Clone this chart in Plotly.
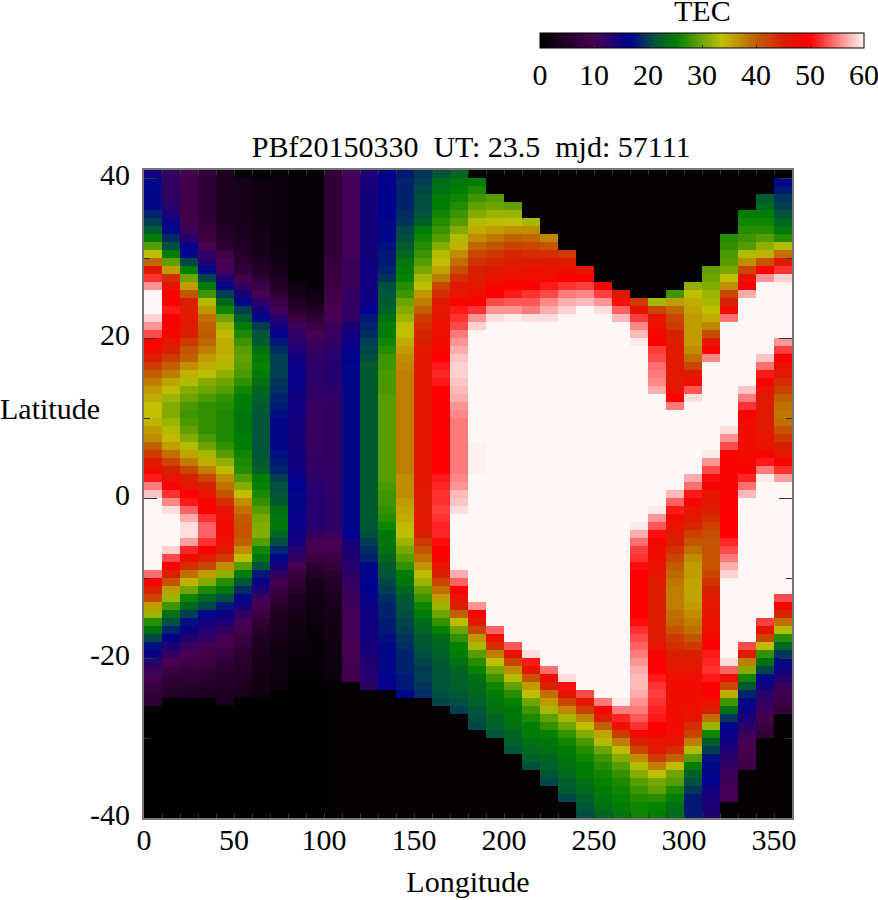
import numpy as np
import plotly.graph_objects as go

# TEC, one list per 10 deg longitude column, top row (lat 40..41) first
lon_000 = [15,17,17,17,17,18.5,20,22,25,29,33.5,39.5,46,52,56,60,60,60,58.5,56,
           53,50,48,45,43,40,38,36,35,33.6,33.6,34.5,36,37,40,43,46,48,51,55,
           58,60,60,60,60,60,60,60,60,60,54.5,50,45,42,36,32,27,24,20.5,17.5,
           15.5,13.5,11,10,8,7,7,0,0,0,0,0,0,0,0,0,0,0,0,0,0]
lon_010 = [12,12,12,12,13,14,15.5,17,19,21,25,29.5,36,44,47,50,50,51,50,50,
           49,47,45,43,40,38,35.5,34,32,31,31,32,33,34,36,39,42,45,47,50,
           52,55.5,59,60,60,60,60,58.5,53,50,45,41,36,32,28,24,21,18.5,16,14,
           12,10,8.5,7,6,5,0,0,0,0,0,0,0,0,0,0,0,0,0,0,0]
lon_020 = [9.5,9,9,9,9,9,9.5,11,13,16,17,20.5,25,30,36,41,45,45.5,46,46,
           45.5,43,41,40,37,34.5,33,31,30,28.5,28,28.5,29.5,31,33,35.5,38,42,45,47,
           50,51,54,57,59,59,56.5,51.5,48,44,39,34.5,30,26,23,20,17.5,15.5,13.5,11.5,
           10,9,7.5,6.5,5.5,4.5,0,0,0,0,0,0,0,0,0,0,0,0,0,0,0]
lon_030 = [7,7,7,7,7,7,7.5,8,8.5,10,12,13.5,17,20.5,25,28,33,36.5,39,40,
           40.5,39.5,38,36,35,33.5,31,30,28.5,27.5,27.5,27.5,27.5,28.5,30,32.5,35,38,42,45,
           47,49,50,52,54,54,52,50,45.5,42,36,31,26.5,23,20.5,17,15,13.5,12.5,10.5,
           9,8,7,6,5,4,0,0,0,0,0,0,0,0,0,0,0,0,0,0,0]
lon_040 = [4,4,4,4,4,4,4,4.5,5.5,6,8.5,10,10.5,13.5,17,20,23.5,26,30,32.5,
           34,35,35,34.5,33,31.5,30,29,27.5,27,26.5,26.5,26.5,26.5,27.5,29,31.5,34,37,39,
           41,44,47,48,48,48,47.5,46,43,37,31.5,27,24.5,21,18,15.5,14,12,10.5,9.5,
           8.5,7,6,5,5,4,3.5,0,0,0,0,0,0,0,0,0,0,0,0,0,0]
lon_050 = [1,3,3,3,3,3,3.5,3.5,4,4.5,5,6,7,9.5,12,14,17,20,22,25,
           26.5,28,29,29.5,29,28.5,27.5,26,25,25,24.5,24.5,24.5,25,25,26,26.5,27,29,31,
           33.5,37,39,40.5,41,41,40,37,33.5,29,25,21.5,19,17,14.5,12,10.5,9.5,8,7,
           6,5.5,5,4.5,4,3.5,0,0,0,0,0,0,0,0,0,0,0,0,0,0,0]
lon_060 = [0.5,2,2,2,2,2,2.5,2.5,3,3,3.5,4,5,6.5,8.5,10,12.5,14.5,17,20,
           21.5,22,24,25,25.5,25,24,23,22.5,22,21.5,21.5,21.5,21.5,21.5,21.5,22,22.5,25,25.5,
           26.5,27.5,29,30.5,31,31,29,26,24.5,21.5,18,15.5,14,11,9.5,8,6.5,5.5,4.5,4,
           3.5,3,3,2.5,2.5,2,0,0,0,0,0,0,0,0,0,0,0,0,0,0,0]
lon_070 = [1,1.5,1.5,1.5,1.5,1.5,1.5,1.5,1.5,1.5,2,2.5,3,4,5,6.5,8.5,10.5,13,15,
           16,18,19,20,20,20,19.5,19,18.5,18,17.5,17,17,17,17,17.5,18,18.5,20,21,
           21.5,22,24,24.5,24.5,23,21,18.5,17,14.5,12,9.5,8,6.5,5.5,4.5,4,3.5,3,2.5,
           2,2,2,1.5,1.5,0,0,0,0,0,0,0,0,0,0,0,0,0,0,0,0]
lon_080 = [1,1,1,1,1,1,1,1,1,1,1,1,1,1,2,3,4.5,6,8,11,
           12.5,13,14,15,15.5,16,16,15.5,15,15,15,15,14.5,14.5,14.5,15,15,15.5,16,16.5,
           17,17,17,16,16,15,15,13,12,10,8,6.5,5.5,4,3.5,3,2.5,2,1.5,1.5,
           1,1,1,1,0,0,0,0,0,0,0,0,0,0,0,0,0,0,0,0,0]
lon_090 = [1,1,1,1,1,1,1,1,1,1,1,1,1,1,1,2,3,4.5,6.5,8.5,
           10,11,11.5,12,12.5,12.5,12.5,12.5,12,11.5,11.5,11.5,11.5,11.5,11.5,11.5,12,12,12.5,13,
           13.5,13,13,13,13,12,10.5,10,8,6,5,3.5,3,2.5,2,2,1.5,1,1,1,
           1,1,1,1,0,0,0,0,0,0,0,0,0,0,0,0,0,0,0,0,0]
lon_100 = [7,7,7,7,7,7,7,7,7,7,7,7.5,8,8,8.5,9,9.5,10,10.5,11,
           11.5,12,12.5,13,13,13,13,12.5,12,12,12,12,12,12,12,12,12,12,12,12,
           12.5,12.5,12.5,12.5,12.5,11.5,10,9.5,8.5,7.5,6,5,4.5,4,3.5,3,3,2.5,2.5,2,
           2,2,1.5,1.5,0.5,0.5,0.5,0.5,0.5,0.5,0.5,0.5,0.5,0.5,0.5,0.5,0.5,0.5,0.5,0.5,0.5]
lon_110 = [10.5,10.5,10.5,10.5,10.5,10.5,10.5,10.5,10.5,10.5,10.5,11,11,11,11,12,12,12,12,14,
           15,15.5,16,16.5,17,17,17,17,17,17,17,17,17,17,17,17,17,17,17,17,
           17,17,17,17,17,16.5,14.5,14,13.5,13,12.5,12,11.5,11,11,10.5,10.5,10.5,10,10,
           10,9.5,9.5,9.5,0.5,0.5,0.5,0.5,0.5,0.5,0.5,0.5,0.5,0.5,0.5,0.5,0.5,0.5,0.5,0.5,0.5]
lon_120 = [14,14.5,14.5,14.5,14.5,14.5,14.5,14.5,14.5,14.5,14.5,15,15,15,15,15,15.5,16.5,18,18.5,
           19,20,20.5,21,22,22,22,22,22,22,22,22,22,22,22,22,22,22,22,22,
           22,22,22,22,21.5,21,20,19,18.5,17,17,16.5,16.5,16,15.5,15,15,15,15,14.5,
           14,13.5,13,13,12.5,0.5,0.5,0.5,0.5,0.5,0.5,0.5,0.5,0.5,0.5,0.5,0.5,0.5,0.5,0.5,0.5]
lon_130 = [16,16.5,16.5,16.5,16.5,16.5,17,17,17,17.5,18,18,18.5,19.5,21,21.5,22,22.5,24,25,
           25,26,27,28,28,28.5,28.5,28.5,29,29,29,29,29,29,29,29,29,29,29,28.5,
           28,28,27.5,27,26,24.5,24.5,24,23,22,21.5,20.5,20,19,18.5,18.5,18,18,17.5,17,
           17,17,17,16.5,16,0.5,0.5,0.5,0.5,0.5,0.5,0.5,0.5,0.5,0.5,0.5,0.5,0.5,0.5,0.5,0.5]
lon_140 = [18,18.5,18.5,18.5,18.5,19,19.5,20.5,21,22,23,24.5,25,25.5,27,28,30,31,32,33.5,
           33.5,35,36,37,37.5,38,38,38,38,38,38,38,38,38,38,38,38,38,37,37,
           37,36,35.5,35,34,33.5,32,30.5,29,27.5,25,24.5,23,22,21.5,21,20.5,20,19.5,19,
           18.5,18.5,18.5,18,18,17,0.5,0.5,0.5,0.5,0.5,0.5,0.5,0.5,0.5,0.5,0.5,0.5,0.5,0.5,0.5]
lon_150 = [19.5,20,20.5,21,21,21.5,22.5,25,26,27,28,29,30.5,32.5,33.5,36.5,38,40,43,44,
           44.5,45,46.5,46.5,46.5,46.5,46.5,46.5,46.5,46.5,46.5,46.5,46.5,46.5,46.5,46.5,46.5,46.5,46.5,46.5,
           46,45.5,46,46,46,45,43,41,39,36.5,34,32,29.5,28,26,25,23.5,23,22,21.5,
           21,20.5,20,20,19.5,19,0.5,0.5,0.5,0.5,0.5,0.5,0.5,0.5,0.5,0.5,0.5,0.5,0.5,0.5,0.5]
lon_160 = [21.5,23.5,24,25,25,26,27,28,29,31,33,33.5,35.5,38,42,44,46,46.5,47,47.5,
           48,48.5,49,50,51,51.5,51,50,50,49.5,49.5,50,50,50,50,50,50,50,51,51.5,
           52,52,52.5,52,51.5,51.5,50.5,50,49,47,45,42,39,36,32,30,27.5,25.5,23.5,23,
           22.5,22,21.5,21.5,21.5,21,20.5,0.5,0.5,0.5,0.5,0.5,0.5,0.5,0.5,0.5,0.5,0.5,0.5,0.5,0.5]
lon_170 = [23,24.5,25,26,27,28,29,31,33,34.5,37,39,41.5,44,46,47,49,51,52,53,
           55,56,57,58,58.5,58.5,58,57.5,57,56,55.5,55,55,55,55,55,55,55,55.5,56,
           57.5,58,59,60,60,60,60,60,60,60,57,54,50,47,45,40,34,30,27.5,25.5,
           25,24,23,22.5,22.5,22,21,20,0.5,0.5,0.5,0.5,0.5,0.5,0.5,0.5,0.5,0.5,0.5,0.5,0.5]
lon_180 = [0.5,25,26.5,28,29.5,31,33,35,37,39.5,42,43.5,45,45,46.5,48,50,52,56,58.5,
           60,60,60,60,60,60,60,60,60,60,60,60,60,60,59.7,59.7,59.7,59.7,60,60,
           60,60,60,60,60,60,60,60,60,60,60,60,60,60,56,50,46,42,36.5,32.5,
           29,27,25.5,24,23.5,23,22.5,21.5,21,20.5,0.5,0.5,0.5,0.5,0.5,0.5,0.5,0.5,0.5,0.5,0.5]
lon_190 = [0.5,0.5,0.5,29,30,32,34,36,38.5,41,43,44.5,46,47.5,49,50,53,56,59,60,
           60,60,60,60,60,60,60,60,60,60,60,60,60,60,60,60,60,60,60,60,
           60,60,60,60,60,60,60,60,60,60,60,60,60,60,60,60,60,54,48,44,
           38,33.5,30.5,28,26,25,24.5,24,23,22.5,21.5,0.5,0.5,0.5,0.5,0.5,0.5,0.5,0.5,0.5,0.5]
lon_200 = [0.5,0.5,0.5,0.5,29.5,32,33.5,37,40,42.5,44.5,45.5,47,48,50,51,53.5,56,59.5,60,
           60,60,60,60,60,60,60,60,60,60,60,60,60,60,60,60,60,60,60,60,
           60,60,60,60,60,60,60,60,60,60,60,60,60,60,60,60,60,60,60,53.5,
           47,42,37,33,29.5,27,25.5,24.5,24.5,24,23,22.5,21.5,0.5,0.5,0.5,0.5,0.5,0.5,0.5,0.5]
lon_210 = [0.5,0.5,0.5,0.5,0.5,0.5,32.5,37,39.5,42,44,45.5,47.5,48.5,50,52,53.5,55,59,60,
           60,60,60,60,60,60,60,60,60,60,60,60,60,60,60,60,60,60,60,60,
           60,60,60,60,60,60,60,60,60,60,60,60,60,60,60,60,60,60,60,60,
           59,51,47,41,36,33.5,30,28,26.5,25,25,24,23.5,22.5,21,0.5,0.5,0.5,0.5,0.5,0.5]
lon_220 = [0.5,0.5,0.5,0.5,0.5,0.5,0.5,0.5,37.5,41,44,46,47.5,48.5,51,53,55.5,57,59,60,
           60,60,60,60,60,60,60,60,60,60,60,60,60,60,60,60,60,60,60,60,
           60,60,60,60,60,60,60,60,60,60,60,60,60,60,60,60,60,60,60,60,
           60,60,54.5,48,45,39,36,32.5,29.5,27.5,25.5,24.5,24,23,22.5,21.5,20.5,0.5,0.5,0.5,0.5]
lon_230 = [0.5,0.5,0.5,0.5,0.5,0.5,0.5,0.5,0.5,0.5,43,46,48,50,52,55,57,58.5,60,60,
           60,60,60,60,60,60,60,60,60,60,60,60,60,60,60,60,60,60,60,60,
           60,60,60,60,60,60,60,60,60,60,60,60,60,60,60,60,60,60,60,60,
           60,60,60,59,50.5,47,42,37.5,32.5,30,27.5,26,25,24.5,24,23.5,22.5,22,20.5,0.5,0.5]
lon_240 = [0.5,0.5,0.5,0.5,0.5,0.5,0.5,0.5,0.5,0.5,0.5,0.5,46,49.5,52.5,55.5,57.5,60,60,60,
           60,60,60,60,60,60,60,60,60,60,60,60,60,60,60,60,60,60,60,60,
           60,60,60,60,60,60,60,60,60,60,60,60,60,60,60,60,60,60,60,60,
           60,60,60,60,60,53,46.5,42.5,37.5,33.5,31,28.5,27,26,25,25,24,23.5,22.5,21.5,21]
lon_250 = [0.5,0.5,0.5,0.5,0.5,0.5,0.5,0.5,0.5,0.5,0.5,0.5,0.5,0.5,49,52.5,56,59,60,60,
           60,60,60,60,60,60,60,60,60,60,60,60,60,60,60,60,60,60,60,60,
           60,60,60,60,60,60,60,60,60,60,60,60,60,60,60,60,60,60,60,60,
           60,60,60,60,60,60,55,50,45.5,40,35.5,33,30,28,27,26,25.5,25,24.5,24,23]
lon_260 = [0.5,0.5,0.5,0.5,0.5,0.5,0.5,0.5,0.5,0.5,0.5,0.5,0.5,0.5,0.5,46,50.5,54,57.5,60,
           60,60,60,60,60,60,60,60,60,60,60,60,60,60,60,60,60,60,60,60,
           60,60,60,60,60,60,60,60,60,60,60,60,60,60,60,60,60,60,60,60,
           60,60,60,60,60,60,59.5,55,51.5,47.5,43,38,34,31,29,27.5,26.5,26,25.5,25,24.5]
lon_270 = [0.5,0.5,0.5,0.5,0.5,0.5,0.5,0.5,0.5,0.5,0.5,0.5,0.5,0.5,0.5,0.5,43,47,52.5,55.5,
           57.5,59.5,60,60,60,60,60,60,60,60,60,60,60,60,60,60,60,60,60,60,
           60,60,60,60,59.5,57,54.5,52.5,52,50.5,50,50,50,50,50,50,50.5,52,53,54,
           55,56,57,57.5,57.5,57,56,55,53.5,52,49.5,45,42,37,33,31,29,28,27,26,26]
lon_280 = [0.5,0.5,0.5,0.5,0.5,0.5,0.5,0.5,0.5,0.5,0.5,0.5,0.5,0.5,0.5,0.5,32.5,42,46.5,48,
           49,50,52.5,53,54.5,55,55.5,57,60,60,60,60,60,60,60,60,60,60,60,60,
           60,60,59.5,56,53.5,50.5,49,48,48,47,46.5,46,45.5,45.5,45.5,45.5,45.5,45.5,45.5,47,
           49,50,50,51,52,52.5,52,51.5,51,50,49,47,46,43,38,33.5,30.5,29.5,27,25.5,25]
lon_290 = [0.5,0.5,0.5,0.5,0.5,0.5,0.5,0.5,0.5,0.5,0.5,0.5,0.5,0.5,0.5,28,36,39.5,42,43,
           45,45.5,46,46,46,46,46,47,50,55,60,60,60,60,60,60,60,60,60,60,
           57.5,54,51,48,47,46,45,43.5,42,40.5,39.5,38.5,38,38,38,39,39.5,41,43,44,
           45,46,47,48,48,48,48,48,48,48,47.5,47,44,40,34,30,29,26.5,25,24,23.5]
lon_300 = [0.5,0.5,0.5,0.5,0.5,0.5,0.5,0.5,0.5,0.5,0.5,0.5,0.5,0.5,31.5,33.5,35,35.5,36,36,
           36,36,37,39,42,46,47.5,53.5,59,60,60,60,60,60,60,60,60,60,57,54.5,
           51,49,47,46,44.5,42.5,41,39,37,36,36,35.5,35.5,35.5,36,37,38,39,41,43,
           45,46,46.5,48,48,48,48,47.5,47,44,42,38,33,29,25,22.5,21,19.5,18,18,18]
lon_310 = [0.5,0.5,0.5,0.5,0.5,0.5,0.5,0.5,0.5,0.5,0.5,0.5,29.5,30,31,32,32.5,33.5,35,37.5,
           41.5,46,50,55.5,60,60,60,60,60,60,60,60,60,60,60,59.5,56,53,50.5,49,
           47,46.5,45.5,44,42.5,41.5,41,41,41,41,42,43.5,45,46,46.5,47,47.5,48,49,49.5,
           51,51.5,52,51,50,49.5,47.5,45,39,32,26,22,20,17.5,17,17,16.5,15,14,14,13.5]
lon_320 = [0.5,0.5,0.5,0.5,0.5,0.5,0.5,0.5,27,27.5,28.5,29,30.5,33.5,37,42,45,48,54.5,60,
           60,60,60,60,60,60,60,60,60,60,60,60,59,56,53,49.5,49.5,49.5,49,49,
           49.5,50,50,50,50,50,51.5,53,55,57,58.5,60,60,60,60,60,60,60,60,60,
           60,59,54,48,42,35,28,24,19.5,17,16,15,14,13,12,11,11,10.5,10.5,0.5,0.5]
lon_330 = [0.5,0.5,0.5,0.5,0.5,25,26,27,28,29,33,37,42,47,50,57,60,60,60,60,
           60,60,60,60,60,60,60,58,55,52,50,48.5,48,48,48,48,49,49.5,51.5,54.5,
           57.5,60,60,60,60,60,60,60,60,60,60,60,60,60,60,60,60,60,60,53,
           46,38,31,26,22,18.5,17,15.5,14,13,11,10,9.5,9.5,8.5,0.5,0.5,0.5,0.5,0.5,0.5]
lon_340 = [0.5,0.5,0.5,22,23.5,25,26,27,29,31.5,34.5,41,49.5,56,60,60,60,60,60,60,
           60,60,60,58,54.5,51,49,47,46,46,46,46,46,47,47,49,51,55,59.5,60,
           60,60,60,60,60,60,60,60,60,60,60,60,60,60,60,60,52.5,47,42,34,
           27.5,24,20.5,17,15,13,12,11,9.5,8,7,0.5,0.5,0.5,0.5,0.5,0.5,0.5,0.5,0.5,0.5]
lon_350 = [0.5,17,18,19.5,20,21.5,23,24.5,27,33,39,46,52,58.5,60,60,60,60,60,60,
           60,56,52.5,50,47.5,46,44,42,40,39,38.5,39,41,43,45,47,49,52,56.5,60,
           60,60,60,60,60,60,60,60,60,60,60,60,60,53,49,44.5,39,33,27,23,
           19.5,17,15,13.5,11.5,9.5,8.5,7.5,0.5,0.5,0.5,0.5,0.5,0.5,0.5,0.5,0.5,0.5,0.5,0.5,0.5]

columns = [lon_000, lon_010, lon_020, lon_030, lon_040, lon_050, lon_060, lon_070, lon_080,
           lon_090, lon_100, lon_110, lon_120, lon_130, lon_140, lon_150, lon_160, lon_170,
           lon_180, lon_190, lon_200, lon_210, lon_220, lon_230, lon_240, lon_250, lon_260,
           lon_270, lon_280, lon_290, lon_300, lon_310, lon_320, lon_330, lon_340, lon_350]
for c in columns:
    assert len(c) == 81, len(c)

lons = np.arange(5, 360, 10)
lats = np.arange(40.5, -40, -1)
tec = np.array(columns).T

palette = [[0, "#000000"], [10/60, "#480050"], [16.6/60, "#000090"], [21/60, "#005040"],
           [25.3/60, "#008000"], [33.6/60, "#c0c000"], [40/60, "#c06000"], [45/60, "#d82000"],
           [50/60, "#ff0000"], [1, "#fff6f6"]]

SERIF = "Liberation Serif"
FS = 30

fig = go.Figure(go.Heatmap(
    x=lons, y=lats, z=tec, zmin=0, zmax=60, colorscale=palette, hoverongaps=False,
    colorbar=dict(orientation="h", lenmode="pixels", len=324, thickness=15,
                  x=(540-144)/648, xanchor="left", y=(818-95)/648, yanchor="bottom",
                  xpad=0, ypad=0, outlinecolor="black", outlinewidth=1,
                  tickvals=[0, 10, 20, 30, 40, 50, 60], ticks="inside", ticklen=3,
                  ticklabeloverflow="allow",
                  tickcolor="#333333", tickfont=dict(family=SERIF, size=FS, color="black"))))

fig.update_layout(
    width=878, height=900, autosize=False, paper_bgcolor="white", plot_bgcolor="black",
    margin=dict(l=144, r=86, t=170, b=82, autoexpand=False),
    font=dict(family=SERIF, size=FS, color="black"),
    title=dict(text="PBf20150330\u00a0\u00a0UT: 23.5\u00a0\u00a0mjd: 57111", x=0.5366, xanchor="center",
               y=1-177/900, yanchor="middle", font=dict(family=SERIF, size=FS, color="black")),
    annotations=[dict(text="Latitude", xref="paper", yref="paper", x=-146/648, xanchor="left",
                      y=(818-408)/648, yanchor="middle", showarrow=False,
                      font=dict(family=SERIF, size=FS, color="black")),
                 dict(text="TEC", xref="paper", yref="paper", x=(702-144)/648, xanchor="center",
                      y=(818-10)/648, yanchor="middle", showarrow=False,
                      font=dict(family=SERIF, size=FS, color="black"))])

fig.update_xaxes(range=[0, 360], tickvals=[0, 50, 100, 150, 200, 250, 300, 350], ticks="inside",
                 ticklen=5, tickcolor="#333333", showgrid=False, zeroline=False, showline=True,
                 linecolor="#777777", linewidth=2, mirror="ticks",
                 minor=dict(dtick=10, tick0=0, ticks="inside", ticklen=5, tickcolor="#333333", showgrid=False),
                 title=dict(text="Longitude", standoff=47, font=dict(family=SERIF, size=FS)),
                 tickfont=dict(family=SERIF, size=FS), ticklabelstandoff=-6)
fig.update_yaxes(range=[-40, 41], tickvals=[-40, -20, 0, 20, 40], ticktext=["-40", "-20", "0", "20", "40"],
                 ticks="inside", ticklen=13,
                 tickcolor="#333333", showgrid=False, zeroline=False, showline=True,
                 linecolor="#777777", linewidth=2, mirror="ticks",
                 minor=dict(dtick=10, tick0=0, ticks="inside", ticklen=6, tickcolor="#333333", showgrid=False),
                 tickfont=dict(family=SERIF, size=FS), ticklabelstandoff=6, ticklabelshift=-4)

fig.write_html("out.html", config={"displayModeBar": False}, post_script="document.body.style.margin='0';")
